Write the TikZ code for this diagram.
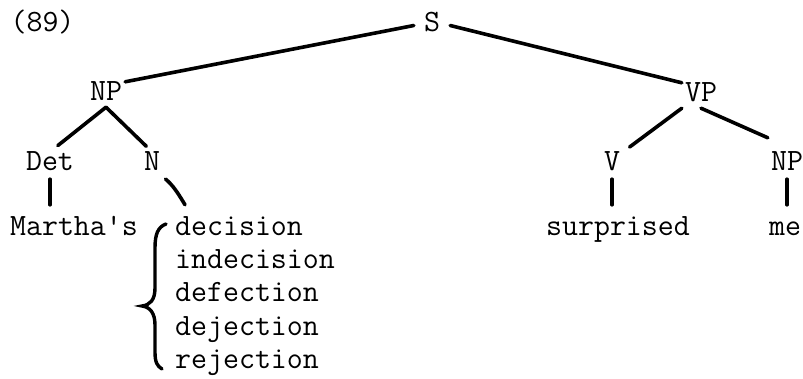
\documentclass[tikz,border=0pt]{standalone}
\usepackage{fontspec}
\setmainfont{Latin Modern Mono}[Ligatures=TeXOff]
\usetikzlibrary{calc}
\begin{document}
\begin{tikzpicture}[x=1pt,y=-1pt,
  lbl/.style={font=\fontsize{31}{33}\selectfont, inner sep=3pt, text height=15pt, text depth=4pt, anchor=base},
  br/.style={line width=3.6pt, line cap=round},
]
\useasboundingbox (0,0) rectangle (803,378);
\node[lbl] (num) at (42.5,31) {(89)};
\node[lbl, inner xsep=10pt] (s) at (432,31) {S};
\node[lbl] (np1) at (106,100) {NP};
\node[lbl] (vp) at (701,101) {VP};
\node[lbl] (det) at (50,170) {Det};
\node[lbl] (n) at (152,170) {N};
\node[lbl] (v) at (612,170) {V};
\node[lbl] (np2) at (787,170) {NP};
\node[lbl] (mar) at (74,235) {Martha's};
\node[lbl, anchor=base west] (w1) at (172,235) {decision};
\node[lbl, anchor=base west] (w2) at (172,268) {indecision};
\node[lbl, anchor=base west] (w3) at (172,301.5) {defection};
\node[lbl, anchor=base west] (w4) at (172,335) {dejection};
\node[lbl, anchor=base west] (w5) at (172,368) {rejection};
\node[lbl] (sur) at (618,235) {surprised};
\node[lbl] (me) at (785,235) {me};

\draw[br] (s.west) -- (np1.north east);
\draw[br] (s.east) -- (vp.north west);
\draw[br, shorten >=10pt] (np1.south) -- (det.north);
\draw[br, shorten >=8pt] (np1.south) -- (n.north);
\draw[br, shorten >=8pt] (vp.south west) -- (v.north east);
\draw[br] (vp.south) -- ($(np2.north west)+(0,-14)$);
\draw[br, xshift=4pt, shorten <=2pt, shorten >=12pt] (det.south) -- (det.south |- mar.north);
\draw[br, shorten <=2pt, shorten >=12pt] (v.south) -- (v.south |- sur.north);
\draw[br, xshift=-3pt, shorten <=2pt, shorten >=12pt] (np2.south) -- (np2.south |- me.north);
\draw[br, shorten <=3pt] (n.south east) .. controls +(10,8) and +(-6,-10) .. ($(w1.north west)+(13,-12)$);
\draw[br, line width=3.4pt] (166,224) .. controls (158,227) and (155,234) .. (155,248) -- (155,288) .. controls (155,300) and (150,305) .. (142,306) .. controls (150,307) and (155,313) .. (155,325) -- (155,352) .. controls (155,362) and (157,366) .. (162,369);
\end{tikzpicture}
\end{document}
